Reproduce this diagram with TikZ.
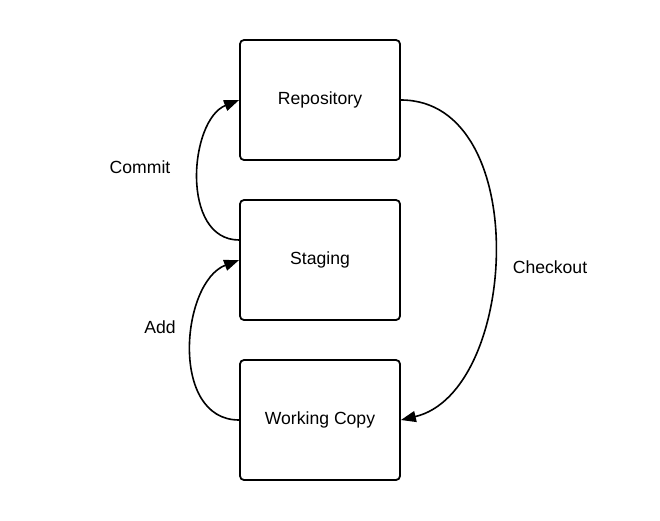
\documentclass[tikz,border=0pt]{standalone}
\usepackage{fontspec}
\setmainfont{Liberation Sans}
\usetikzlibrary{arrows.meta}
\begin{document}
\begin{tikzpicture}[x=1pt,y=-1pt,
  box/.style={draw=black,line width=1.8pt,rounded corners=4pt,minimum width=160pt,minimum height=120pt,inner sep=0pt,font=\fontsize{17.6}{20}\selectfont},
  lbl/.style={font=\fontsize{17.6}{20}\selectfont},
  conn/.style={line width=1.6pt,-{Triangle[length=15pt,width=11pt]}}]
\useasboundingbox (0,0) rectangle (660,520);
\fill[white] (0,0) rectangle (660,520);
\node[box] (repo) at (320,100) {Repository};
\node[box] (stag) at (320,260) {Staging};
\node[box] (work) at (320,420) {Working Copy};
\draw[conn] ([yshift=20pt]stag.west) .. controls +(-59,0) and +(-50,20) .. (repo.west);
\draw[conn] ([yshift=0pt]work.west) .. controls +(-70,0) and +(-58,22) .. (stag.west);
\draw[conn] (repo.east) .. controls +(132,0) and +(118,-28) .. (work.east);
\node[lbl] (commit) at (140,167) {Commit};
\node[lbl] (add) at (160,327) {Add};
\node[lbl] (checkout) at (550,267) {Checkout};
\end{tikzpicture}
\end{document}
